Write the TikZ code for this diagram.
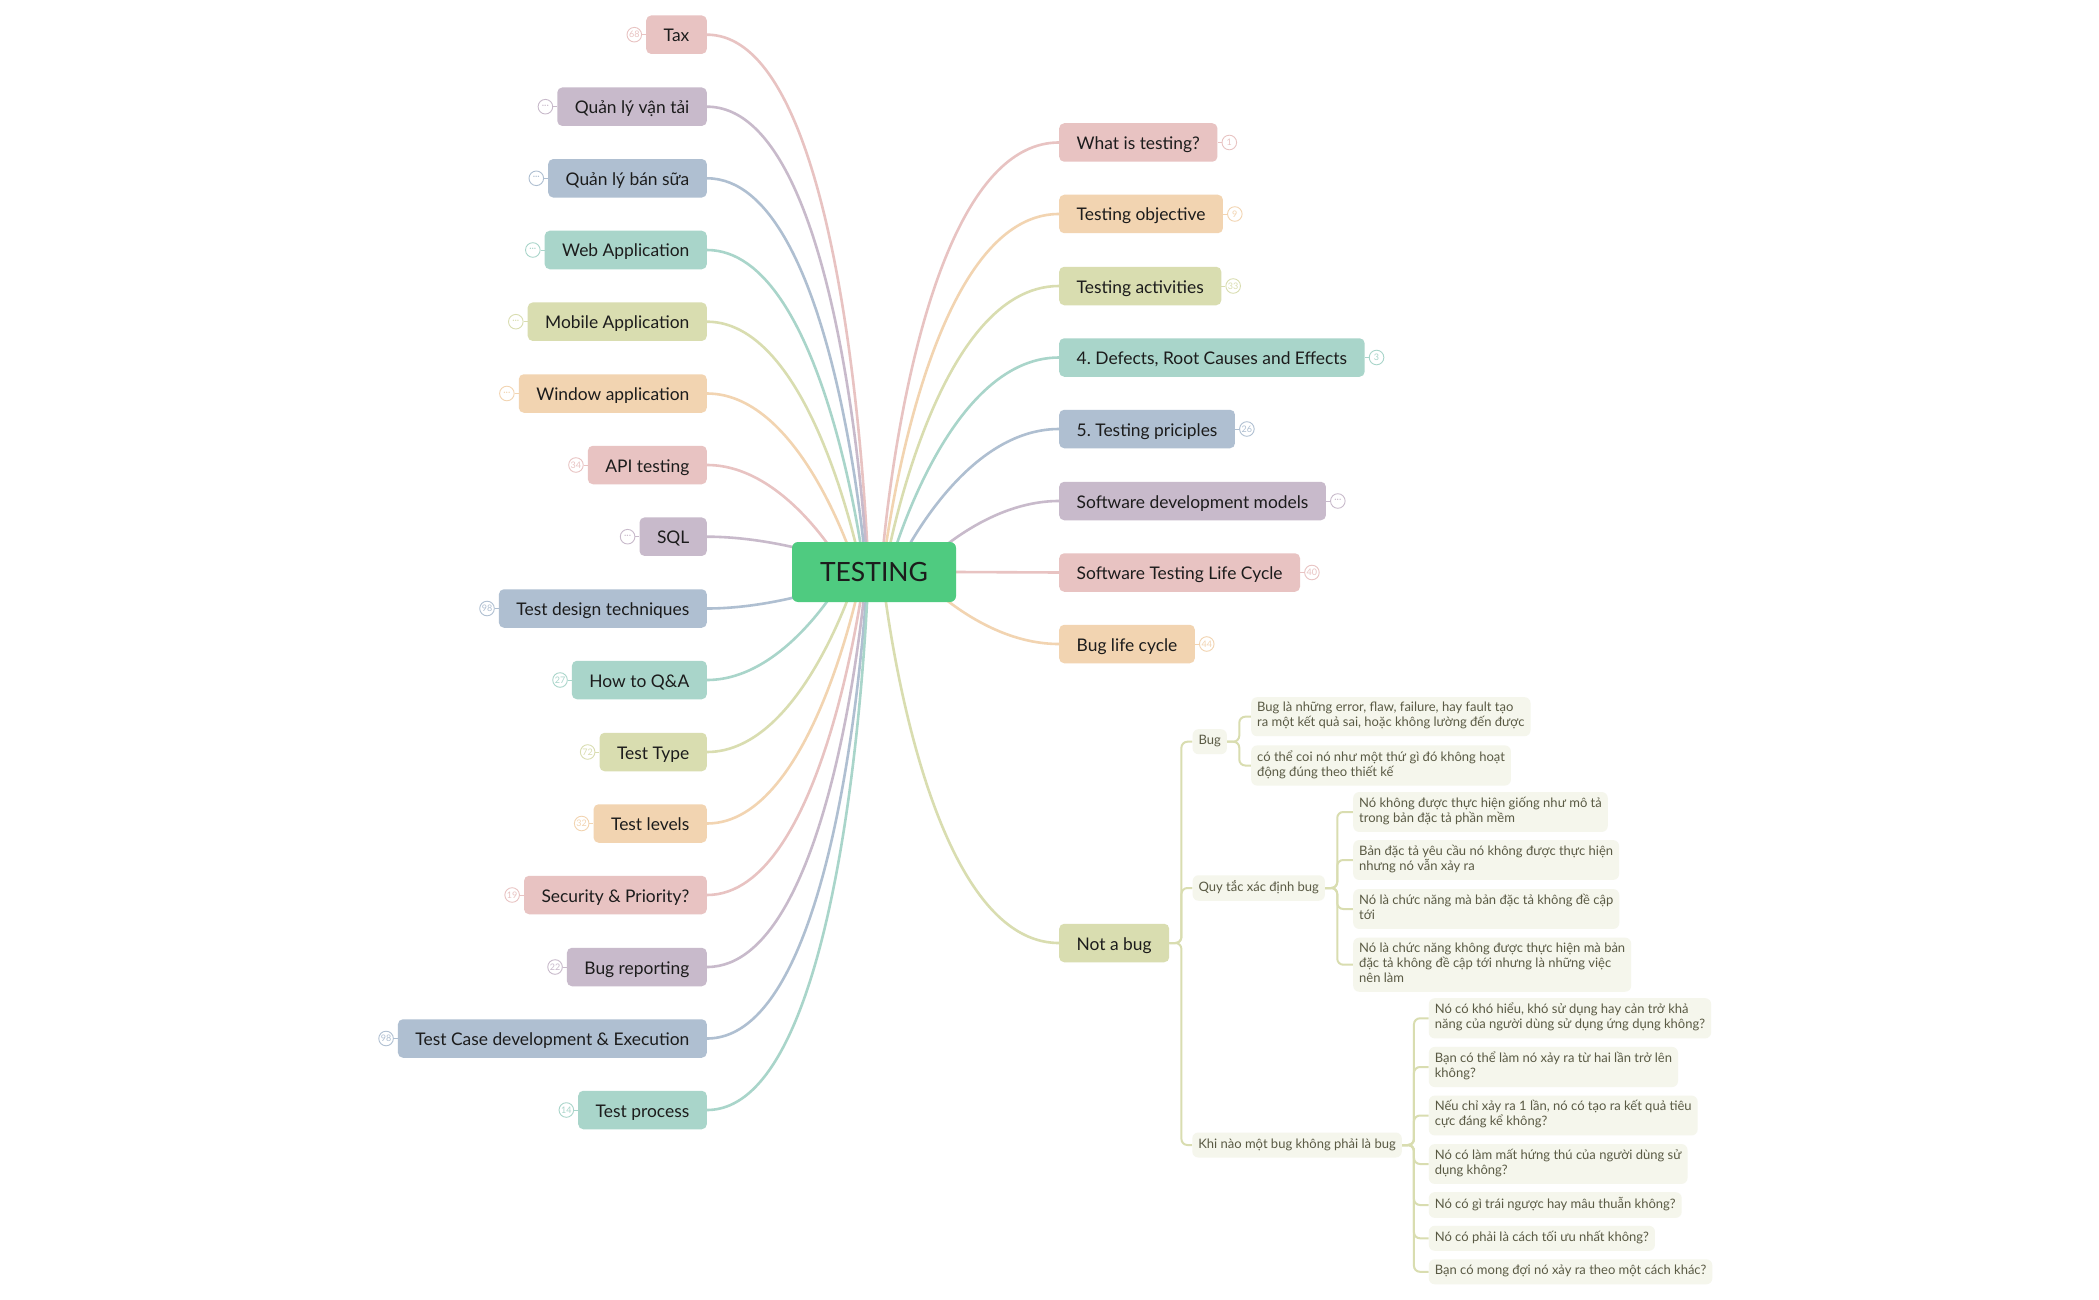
\documentclass[tikz,border=0pt]{standalone}
\usepackage{fontspec}
\setmainfont{Lato}
\usepackage{tikz}
\usetikzlibrary{positioning, calc}
\pgfdeclarelayer{background}
\pgfsetlayers{background,main}
\definecolor{mappink}{HTML}{E8C3C2}
\definecolor{mappurple}{HTML}{C8BACB}
\definecolor{mapblue}{HTML}{AFBFD1}
\definecolor{mapteal}{HTML}{A9D5CA}
\definecolor{mapolive}{HTML}{D9DDB0}
\definecolor{mappeach}{HTML}{F2D4B1}
\definecolor{rootgreen}{HTML}{4FCB80}
\definecolor{subfill}{HTML}{F5F6EC}
\definecolor{subtext}{HTML}{5A5A44}
\definecolor{topictext}{HTML}{1C1C1C}

\begin{document}
\frenchspacing
\begin{tikzpicture}[
    x=1pt, y=-1pt,
    topic/.style={rectangle, rounded corners=5pt, minimum height=38.5pt, inner xsep=17.5pt, text height=15pt, text depth=1pt, text=topictext, font=\fontsize{17.4}{21}\selectfont},
    rootnode/.style={rectangle, rounded corners=6pt, fill=rootgreen, minimum width=164pt, minimum height=60pt, text height=19pt, text depth=0pt, text=topictext, font=\fontsize{26.5}{29}\selectfont},
    badge/.style={circle, draw, line width=0.9pt, minimum size=14.6pt, inner sep=0pt, font=\fontsize{9}{9}\selectfont},
    branch/.style={line width=2.6pt},
    sub/.style={rectangle, rounded corners=6pt, fill=subfill, text=subtext, align=left, inner xsep=6pt, inner ysep=5pt, font=\fontsize{13}{15}\selectfont, execute at begin node=\strut, execute at end node=\strut},
    subedge/.style={draw=mapolive, line width=2pt, rounded corners=6pt}
]
\useasboundingbox (0,0) rectangle (2099,1300);

% Root
\node[rootnode] (root) at (874,572) {TESTING};

% Left topics
\node[topic, fill=mappink, anchor=east] (tax) at (707,34.7) {Tax};
\node[topic, fill=mappurple, anchor=east] (qlvt) at (707,106.7) {Quản lý vận tải};
\node[topic, fill=mapblue, anchor=east] (qlbs) at (707,178.3) {Quản lý bán sữa};
\node[topic, fill=mapteal, anchor=east] (webapp) at (707,250) {Web Application};
\node[topic, fill=mapolive, anchor=east] (mobile) at (707,321.7) {Mobile Application};
\node[topic, fill=mappeach, anchor=east] (window) at (707,393.5) {Window application};
\node[topic, fill=mappink, anchor=east] (api) at (707,465) {API testing};
\node[topic, fill=mappurple, anchor=east] (sql) at (707,536.7) {SQL};
\node[topic, fill=mapblue, anchor=east] (tdt) at (707,608.5) {Test design techniques};
\node[topic, fill=mapteal, anchor=east] (qna) at (707,680) {How to Q\&A};
\node[topic, fill=mapolive, anchor=east] (ttype) at (707,752) {Test Type};
\node[topic, fill=mappeach, anchor=east] (tlevel) at (707,823.5) {Test levels};
\node[topic, fill=mappink, anchor=east] (secu) at (707,895) {Security \& Priority?};
\node[topic, fill=mappurple, anchor=east] (bugrep) at (707,967) {Bug reporting};
\node[topic, fill=mapblue, anchor=east] (tcase) at (707,1038.5) {Test Case development \& Execution};
\node[topic, fill=mapteal, anchor=east] (tproc) at (707,1110) {Test process};

% Right topics
\node[topic, fill=mappink, anchor=west] (whatis) at (1059,142.5) {What is testing?};
\node[topic, fill=mappeach, anchor=west] (tobj) at (1059,214) {Testing objective};
\node[topic, fill=mapolive, anchor=west] (tact) at (1059,286) {Testing activities};
\node[topic, fill=mapteal, anchor=west] (defects) at (1059,357.5) {4. Defects, Root Causes and Effects};
\node[topic, fill=mapblue, anchor=west] (tprin) at (1059,429) {5. Testing priciples};
\node[topic, fill=mappurple, anchor=west] (sdm) at (1059,501) {Software development models};
\node[topic, fill=mappink, anchor=west] (stlc) at (1059,572.5) {Software Testing Life Cycle};
\node[topic, fill=mappeach, anchor=west] (blc) at (1059,644) {Bug life cycle};
\node[topic, fill=mapolive, anchor=west] (nab) at (1059,943) {Not a bug};

% Count badges
\node[badge, draw=mappink, text=mappink] (taxno) at ($(tax.west)+(-11.7,0)$) {68};
\node[badge, draw=mappurple, text=mappurple] (qlvtno) at ($(qlvt.west)+(-11.7,0)$) {···};
\node[badge, draw=mapblue, text=mapblue] (qlbsno) at ($(qlbs.west)+(-11.7,0)$) {···};
\node[badge, draw=mapteal, text=mapteal] (webappno) at ($(webapp.west)+(-11.7,0)$) {···};
\node[badge, draw=mapolive, text=mapolive] (mobileno) at ($(mobile.west)+(-11.7,0)$) {···};
\node[badge, draw=mappeach, text=mappeach] (windowno) at ($(window.west)+(-11.7,0)$) {···};
\node[badge, draw=mappink, text=mappink] (apino) at ($(api.west)+(-11.7,0)$) {34};
\node[badge, draw=mappurple, text=mappurple] (sqlno) at ($(sql.west)+(-11.7,0)$) {···};
\node[badge, draw=mapblue, text=mapblue] (tdtno) at ($(tdt.west)+(-11.7,0)$) {98};
\node[badge, draw=mapteal, text=mapteal] (qnano) at ($(qna.west)+(-11.7,0)$) {27};
\node[badge, draw=mapolive, text=mapolive] (ttypeno) at ($(ttype.west)+(-11.7,0)$) {72};
\node[badge, draw=mappeach, text=mappeach] (tlevelno) at ($(tlevel.west)+(-11.7,0)$) {32};
\node[badge, draw=mappink, text=mappink] (secuno) at ($(secu.west)+(-11.7,0)$) {19};
\node[badge, draw=mappurple, text=mappurple] (bugrepno) at ($(bugrep.west)+(-11.7,0)$) {22};
\node[badge, draw=mapblue, text=mapblue] (tcaseno) at ($(tcase.west)+(-11.7,0)$) {98};
\node[badge, draw=mapteal, text=mapteal] (tprocno) at ($(tproc.west)+(-11.7,0)$) {14};
\node[badge, draw=mappink, text=mappink] (whatisno) at ($(whatis.east)+(11.7,0)$) {1};
\node[badge, draw=mappeach, text=mappeach] (tobjno) at ($(tobj.east)+(11.7,0)$) {9};
\node[badge, draw=mapolive, text=mapolive] (tactno) at ($(tact.east)+(11.7,0)$) {33};
\node[badge, draw=mapteal, text=mapteal] (defectsno) at ($(defects.east)+(11.7,0)$) {3};
\node[badge, draw=mapblue, text=mapblue] (tprinno) at ($(tprin.east)+(11.7,0)$) {26};
\node[badge, draw=mappurple, text=mappurple] (sdmno) at ($(sdm.east)+(11.7,0)$) {···};
\node[badge, draw=mappink, text=mappink] (stlcno) at ($(stlc.east)+(11.7,0)$) {40};
\node[badge, draw=mappeach, text=mappeach] (blcno) at ($(blc.east)+(11.7,0)$) {44};

% Not a bug subtree
\node[sub, anchor=west] (bug) at (1192.4,741.7) {Bug};
\node[sub, anchor=west] (quytac) at (1192.4,888) {Quy tắc xác định bug};
\node[sub, anchor=west] (khinao) at (1192.1,1145) {Khi nào một bug không phải là bug};

\node[sub, anchor=west] (bugdef) at (1251,716.7) {Bug là những error, flaw, failure, hay fault tạo\\ra một kết quả sai, hoặc không lường đến được};
\node[sub, anchor=west] (bugcoi) at (1251,765.5) {có thể coi nó như một thứ gì đó không hoạt\\động đúng theo thiết kế};

\node[sub, anchor=west] (qta) at (1353,812) {Nó không được thực hiện giống như mô tả\\trong bản đặc tả phần mềm};
\node[sub, anchor=west] (qtb) at (1353,860) {Bản đặc tả yêu cầu nó không được thực hiện\\nhưng nó vẫn xảy ra};
\node[sub, anchor=west] (qtc) at (1353,909) {Nó là chức năng mà bản đặc tả không đề cập\\tới};
\node[sub, anchor=west] (qtd) at (1353,964.7) {Nó là chức năng không được thực hiện mà bản\\đặc tả không đề cập tới nhưng là những việc\\nên làm};

\node[sub, anchor=west] (kna) at (1428.6,1018.3) {Nó có khó hiểu, khó sử dụng hay cản trở khả\\năng của người dùng sử dụng ứng dụng không?};
\node[sub, anchor=west] (knb) at (1428.6,1067) {Bạn có thể làm nó xảy ra từ hai lần trở lên\\không?};
\node[sub, anchor=west] (knc) at (1428.6,1115.5) {Nếu chỉ xảy ra 1 lần, nó có tạo ra kết quả tiêu\\cực đáng kể không?};
\node[sub, anchor=west] (knd) at (1428.6,1164) {Nó có làm mất hứng thú của người dùng sử\\dụng không?};
\node[sub, anchor=west] (kne) at (1428.6,1205) {Nó có gì trái ngược hay mâu thuẫn không?};
\node[sub, anchor=west] (knf) at (1428.6,1238.3) {Nó có phải là cách tối ưu nhất không?};
\node[sub, anchor=west] (kng) at (1428.6,1271.8) {Bạn có mong đợi nó xảy ra theo một cách khác?};

\begin{pgfonlayer}{background}
\fill[white] (0,0) rectangle (2099,1300);

% Left branches
\draw[branch, mappink] (tax.east) .. controls +(145,0) and +(0,0) .. ($(root.center)+(-5.6,0)$);
\draw[branch, mappurple] (qlvt.east) .. controls +(138,0) and +(0,0) .. ($(root.center)+(-6.4,0)$);
\draw[branch, mapblue] (qlbs.east) .. controls +(128,0) and +(0,0) .. ($(root.center)+(-7.6,0)$);
\draw[branch, mapteal] (webapp.east) .. controls +(118,0) and +(0,0) .. ($(root.center)+(-9.3,0)$);
\draw[branch, mapolive] (mobile.east) .. controls +(107,0) and +(0,0) .. ($(root.center)+(-12,0)$);
\draw[branch, mappeach] (window.east) .. controls +(96,0) and +(0,0) .. ($(root.center)+(-16.8,0)$);
\draw[branch, mappink] (api.east) .. controls +(81,0) and +(0,0) .. ($(root.center)+(-28,0)$);
\draw[branch, mappurple] (sql.east) .. controls +(83,0) and +(0,0) .. (root.center);
\draw[branch, mapblue] (tdt.east) .. controls +(83,0) and +(0,0) .. (root.center);
\draw[branch, mapteal] (qna.east) .. controls +(81,0) and +(0,0) .. ($(root.center)+(-27.7,0)$);
\draw[branch, mapolive] (ttype.east) .. controls +(96,0) and +(0,0) .. ($(root.center)+(-16.6,0)$);
\draw[branch, mappeach] (tlevel.east) .. controls +(107,0) and +(0,0) .. ($(root.center)+(-11.9,0)$);
\draw[branch, mappink] (secu.east) .. controls +(118,0) and +(0,0) .. ($(root.center)+(-9.3,0)$);
\draw[branch, mappurple] (bugrep.east) .. controls +(128,0) and +(0,0) .. ($(root.center)+(-7.6,0)$);
\draw[branch, mapblue] (tcase.east) .. controls +(138,0) and +(0,0) .. ($(root.center)+(-6.4,0)$);
\draw[branch, mapteal] (tproc.east) .. controls +(145,0) and +(0,0) .. ($(root.center)+(-5.6,0)$);

% Right branches
\draw[branch, mappink] (whatis.west) .. controls +(-148,0) and +(0,0) .. ($(root.center)+(7,0)$);
\draw[branch, mappeach] (tobj.west) .. controls +(-137,0) and +(0,0) .. ($(root.center)+(8.4,0)$);
\draw[branch, mapolive] (tact.west) .. controls +(-126,0) and +(0,0) .. ($(root.center)+(10.5,0)$);
\draw[branch, mapteal] (defects.west) .. controls +(-114,0) and +(0,0) .. ($(root.center)+(14,0)$);
\draw[branch, mapblue] (tprin.west) .. controls +(-100,0) and +(0,0) .. ($(root.center)+(21,0)$);
\draw[branch, mappurple] (sdm.west) .. controls +(-79,0) and +(0,0) .. ($(root.center)+(42,0)$);
\draw[branch, mappink] (root.east) -- (stlc.west);
\draw[branch, mappeach] (blc.west) .. controls +(-80,0) and +(0,0) .. ($(root.center)+(41.6,0)$);
\draw[branch, mapolive] (nab.west) .. controls +(-139,0) and +(0,0) .. ($(root.center)+(8.1,0)$);

% Badge ties
\foreach \t/\c in {tax/mappink, qlvt/mappurple, qlbs/mapblue, webapp/mapteal, mobile/mapolive, window/mappeach, api/mappink, sql/mappurple, tdt/mapblue, qna/mapteal, ttype/mapolive, tlevel/mappeach, secu/mappink, bugrep/mappurple, tcase/mapblue, tproc/mapteal, whatis/mappink, tobj/mappeach, tact/mapolive, defects/mapteal, tprin/mapblue, sdm/mappurple, stlc/mappink, blc/mappeach}
  \draw[line width=0.9pt, draw=\c] (\t no) -- (\t);

% Subtree edges
\draw[subedge] (nab.east) -- ++(12,0) |- (bug.west);
\draw[subedge] (nab.east) -- ++(12,0) |- (quytac.west);
\draw[subedge] (nab.east) -- ++(12,0) |- (khinao.west);
\draw[subedge] (bug.east) -- ++(12.2,0) |- (bugdef.west);
\draw[subedge] (bug.east) -- ++(12.2,0) |- (bugcoi.west);
\draw[subedge] (quytac.east) -- ++(12.2,0) |- (qta.west);
\draw[subedge] (quytac.east) -- ++(12.2,0) |- (qtb.west);
\draw[subedge] (quytac.east) -- ++(12.2,0) |- (qtc.west);
\draw[subedge] (quytac.east) -- ++(12.2,0) |- (qtd.west);
\draw[subedge] (khinao.east) -- ++(12,0) |- (kna.west);
\draw[subedge] (khinao.east) -- ++(12,0) |- (knb.west);
\draw[subedge] (khinao.east) -- ++(12,0) |- (knc.west);
\draw[subedge] (khinao.east) -- ++(12,0) |- (knd.west);
\draw[subedge] (khinao.east) -- ++(12,0) |- (kne.west);
\draw[subedge] (khinao.east) -- ++(12,0) |- (knf.west);
\draw[subedge] (khinao.east) -- ++(12,0) |- (kng.west);
\end{pgfonlayer}
\end{tikzpicture}
\end{document}
